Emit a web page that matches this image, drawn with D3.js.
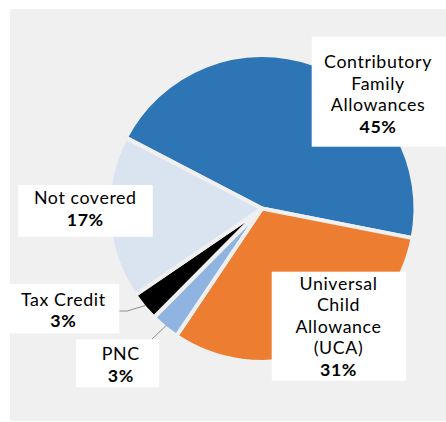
<!DOCTYPE html>
<html>
<head>
<meta charset="utf-8">
<script src="https://cdn.jsdelivr.net/npm/d3@7"></script>
<style>
  html, body { margin: 0; padding: 0; background: #ffffff; }
  svg { display: block; }
  text { font-family: Lato, "Open Sans", sans-serif; fill: #000; }
</style>
</head>
<body>
<svg id="chart" width="446" height="422"></svg>
<script>
// Family benefit coverage, share of children (%)
const categories = ["Contributory Family Allowances", "Universal Child Allowance (UCA)", "PNC", "Tax Credit", "Not covered"];
const shares = [45, 31, 3, 3, 17];
const labelLines = [
  ["Contributory", "Family", "Allowances"],
  ["Universal", "Child", "Allowance", "(UCA)"],
  ["PNC"],
  ["Tax Credit"],
  ["Not covered"]
];
const percentLabels = ["45%", "31%", "3%", "3%", "17%"];

// Styling and layout
const sliceColors = ["#2E75B6", "#ED7D31", "#8FB4E2", "#000000", "#DAE3F0"];
const bgColor = "#f0f0f0";
const center = { x: 262, y: 208.5 };
const outerR = 153.5;
const gapWidth = 4;
const lineHeight = 21.5;
const fontSize = 17.8;

// Label boxes: [x, y, w, h], text centre x, first baseline
const labelLayout = [
  { box: [311.7, 36.7, 134.3, 110], cx: 378, y0: 68 },
  { box: [271.7, 271.7, 134.3, 109], cx: 338.5, y0: 289.7 },
  { box: [76, 339.3, 83.3, 48], cx: 120.8, y0: 360, leader: "top" },
  { box: [10, 284, 109.3, 49.3], cx: 63.3, y0: 305.7, leader: "right" },
  { box: [18.3, 185, 134.4, 51.7], cx: 85.3, y0: 204.3 }
];

const svg = d3.select("#chart");

svg.append("rect")
  .attr("x", 10).attr("y", 9)
  .attr("width", 436).attr("height", 412)
  .attr("fill", bgColor);

const deg = Math.PI / 180;
const pie = d3.pie()
  .sort(null)
  .value(d => d)
  .startAngle(-62.5 * deg)
  .endAngle(-62.5 * deg + 2 * Math.PI);

const arcs = pie(shares);

const arc = d3.arc().innerRadius(0).outerRadius(outerR);

const g = svg.append("g").attr("transform", `translate(${center.x},${center.y})`);

g.selectAll("path.slice")
  .data(arcs)
  .join("path")
  .attr("class", "slice")
  .attr("d", arc)
  .attr("fill", (d, i) => sliceColors[i])
  .attr("stroke", bgColor)
  .attr("stroke-width", gapWidth)
  .attr("stroke-linejoin", "miter");

// Leader lines for the two small slices
const edgeArc = d3.arc().innerRadius(outerR - gapWidth / 2).outerRadius(outerR - gapWidth / 2);
arcs.forEach((d, i) => {
  const L = labelLayout[i];
  if (!L.leader) return;
  const [ex, ey] = edgeArc.centroid(d);
  const end = [center.x + ex, center.y + ey];
  const [bx, by, bw, bh] = L.box;
  let pts;
  if (L.leader === "right") {
    const yMid = by + 27;
    pts = [[bx + bw, yMid], [bx + bw + 8, yMid], end];
  } else {
    pts = [[bx + 75.7, by], end];
  }
  svg.append("path")
    .attr("d", d3.line()(pts))
    .attr("fill", "none")
    .attr("stroke", "#8c8c8c")
    .attr("stroke-width", 1);
});

// Label boxes and text, one text element per line
labelLayout.forEach((L, i) => {
  const [bx, by, bw, bh] = L.box;
  svg.append("rect")
    .attr("x", bx).attr("y", by)
    .attr("width", bw).attr("height", bh)
    .attr("fill", "#ffffff");
  const lines = labelLines[i].map(s => ({ s, bold: false }))
    .concat([{ s: percentLabels[i], bold: true }]);
  lines.forEach((ln, k) => {
    svg.append("text")
      .attr("x", L.cx)
      .attr("y", L.y0 + k * lineHeight)
      .attr("text-anchor", "middle")
      .attr("font-size", fontSize)
      .attr("letter-spacing", "0.6px")
      .attr("font-weight", ln.bold ? "bold" : "normal")
      .text(ln.s);
  });
});
</script>
</body>
</html>
